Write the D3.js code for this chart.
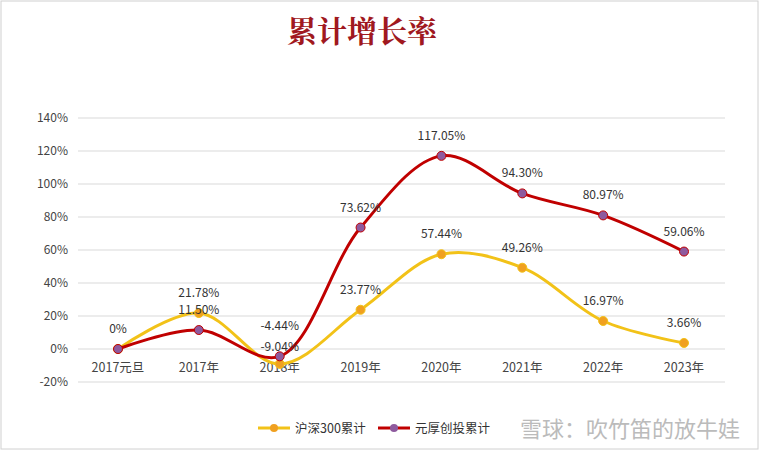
<!DOCTYPE html><html><head><meta charset="utf-8"><script src="https://cdn.jsdelivr.net/npm/d3@7"></script>
<style>body{margin:0;background:#fff}svg{font-family:"Noto Sans CJK SC","DejaVu Sans",sans-serif}</style></head><body><svg id="c" width="760" height="451"></svg><script>
const categories=["2017元旦","2017年","2018年","2019年","2020年","2021年","2022年","2023年"];
const hs300=[0,21.78,-9.04,23.77,57.44,49.26,16.97,3.66];
const yuanhou=[0,11.50,-4.44,73.62,117.05,94.30,80.97,59.06];
const yTicks=[-20,0,20,40,60,80,100,120,140];
const svg=d3.select("#c");
svg.append("rect").attr("x",1).attr("y",1).attr("width",757).attr("height",448).attr("fill","#fff").attr("stroke","#d0d0d0");
const x=d3.scalePoint().domain(categories).range([118,684]);
const y=d3.scaleLinear().domain([-20,140]).range([382,118]);
svg.append("g").selectAll("line").data(yTicks).join("line").attr("x1",78).attr("x2",725).attr("y1",d=>y(d)).attr("y2",d=>y(d)).attr("stroke","#d9d9d9");
svg.append("g").selectAll("text").data(yTicks).join("text").attr("x",68).attr("y",d=>y(d)+4).attr("text-anchor","end").attr("font-size",12).attr("fill","#444").text(d=>d+"%");
svg.append("g").selectAll("text").data(categories).join("text").attr("x",d=>x(d)).attr("y",372).attr("text-anchor","middle").attr("font-size",12.5).attr("fill","#444").text(d=>d);
svg.append("text").attr("x",362).attr("y",42).attr("text-anchor","middle").attr("font-size",30).attr("fill","#a01820").attr("font-family","'Noto Serif CJK SC','Noto Sans CJK SC',serif").attr("font-weight","bold").text("累计增长率");
const line=d3.line().x((d,i)=>x(categories[i])).y(d=>y(d)).curve(d3.curveCatmullRom.alpha(0.5));
function series(vals,lc,dc){
 svg.append("path").attr("d",line(vals)).attr("fill","none").attr("stroke",lc).attr("stroke-width",3);
 svg.append("g").selectAll("circle").data(vals).join("circle").attr("cx",(d,i)=>x(categories[i])).attr("cy",d=>y(d)).attr("r",4.5).attr("fill",dc).attr("stroke",lc).attr("stroke-width",1);
}
series(hs300,"#f2c218","#f0a020");
series(yuanhou,"#c00000","#8e5a9e");
function labels(vals,skip0,extra){
 svg.append("g").selectAll("text").data(vals).join("text").attr("x",(d,i)=>x(categories[i])).attr("y",(d,i)=>y(d)-16-(extra[i]||0)).attr("text-anchor","middle").attr("font-size",12).attr("fill","#333").text((d,i)=>(skip0&&i==0)?"":(i==0?"0%":d.toFixed(2)+"%"));
}
labels(hs300,false,{2:-3});labels(yuanhou,true,{2:10});
const lg=svg.append("g").attr("font-size",12.5).attr("fill","#333");
lg.append("line").attr("x1",258).attr("x2",290).attr("y1",428).attr("y2",428).attr("stroke","#f2c218").attr("stroke-width",3);
lg.append("circle").attr("cx",274).attr("cy",428).attr("r",4).attr("fill","#f0a020");
lg.append("text").attr("x",295).attr("y",433).text("沪深300累计");
lg.append("line").attr("x1",378).attr("x2",410).attr("y1",428).attr("y2",428).attr("stroke","#c00000").attr("stroke-width",3);
lg.append("circle").attr("cx",394).attr("cy",428).attr("r",4).attr("fill","#8e5a9e");
lg.append("text").attr("x",415).attr("y",433).text("元厚创投累计");
svg.append("text").attr("x",740).attr("y",437).attr("text-anchor","end").attr("font-size",22).attr("fill","#bbb").text("雪球：吹竹笛的放牛娃");
</script></body></html>
